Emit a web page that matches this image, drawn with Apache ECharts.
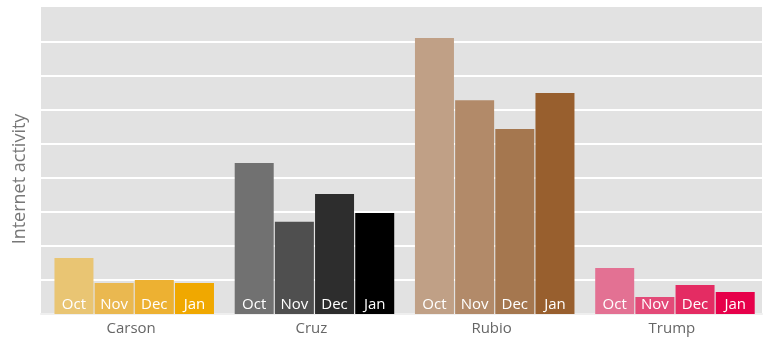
<!DOCTYPE html>
<html>
<head>
<meta charset="utf-8">
<script src="https://cdn.jsdelivr.net/npm/echarts@6/dist/echarts.min.js"></script>
<style>
html,body{margin:0;padding:0;background:#fff;}
#chart{width:765px;height:337px;}
</style>
</head>
<body>
<div id="chart"></div>
<script>
const candidates = ['Carson', 'Cruz', 'Rubio', 'Trump'];
const months = ['Oct', 'Nov', 'Dec', 'Jan'];
// values per month, in candidate order
const octValues = [1.65, 4.44, 8.12, 1.35];
const novValues = [0.91, 2.71, 6.29, 0.50];
const decValues = [1.00, 3.53, 5.44, 0.85];
const janValues = [0.91, 2.97, 6.50, 0.65];
const yTicks = [0, 1, 2, 3, 4, 5, 6, 7, 8, 9];

const palette = {
  Carson: ['#e9c573', '#eab850', '#edb132', '#f0a800'],
  Cruz:   ['#717171', '#4f4f4f', '#2d2d2d', '#000000'],
  Rubio:  ['#c0a086', '#b28a69', '#a5774f', '#985f2e'],
  Trump:  ['#e37193', '#e34a78', '#e42c63', '#e6004a']
};

const monthValues = [octValues, novValues, decValues, janValues];
const font = '"Open Sans", "Noto Sans", sans-serif';

// empty spacer slot (draws nothing) so the month bars sit slightly right of the category centre, as in the source
const series = [{
  name: 'spacer',
  type: 'bar',
  barWidth: 6,
  data: [],
  silent: true
}].concat(months.map((m, mi) => ({
  name: m,
  type: 'bar',
  barWidth: 39,
  barGap: '3%',
  data: monthValues[mi].map((v, ci) => ({
    value: v,
    itemStyle: { color: palette[candidates[ci]][mi] }
  })),
  label: {
    show: true,
    position: 'insideBottom',
    distance: 2,
    formatter: m,
    color: '#ffffff',
    fontSize: 15,
    fontFamily: font
  },
  emphasis: { disabled: true },
  animation: false
})));

const chart = echarts.init(document.getElementById('chart'), null, { renderer: 'canvas' });
chart.setOption({
  animation: false,
  grid: {
    left: 41, right: 3, top: 8, bottom: 23,
    show: true, backgroundColor: '#e2e2e2', borderWidth: 0
  },
  xAxis: {
    type: 'category',
    data: candidates,
    axisLine: { show: true, lineStyle: { color: '#efefef', width: 2 } },
    axisTick: { show: false },
    axisLabel: { color: '#666666', fontSize: 15, fontFamily: font, margin: 7 }
  },
  yAxis: {
    type: 'value',
    min: yTicks[0],
    max: yTicks[yTicks.length - 1],
    interval: 1,
    axisLabel: { show: false },
    axisLine: { show: false },
    axisTick: { show: false },
    splitLine: {
      show: true,
      lineStyle: {
        width: 2,
        color: ['#e2e2e2', '#ffffff', '#ffffff', '#ffffff', '#ffffff', '#ffffff', '#ffffff', '#ffffff', '#ffffff', '#e2e2e2']
      }
    },
    name: 'Internet activity',
    nameLocation: 'middle',
    nameGap: 12,
    nameTextStyle: { color: '#777777', fontSize: 18, fontFamily: font, padding: [0, 36, 0, 0] }
  },
  series: series
});
</script>
</body>
</html>
